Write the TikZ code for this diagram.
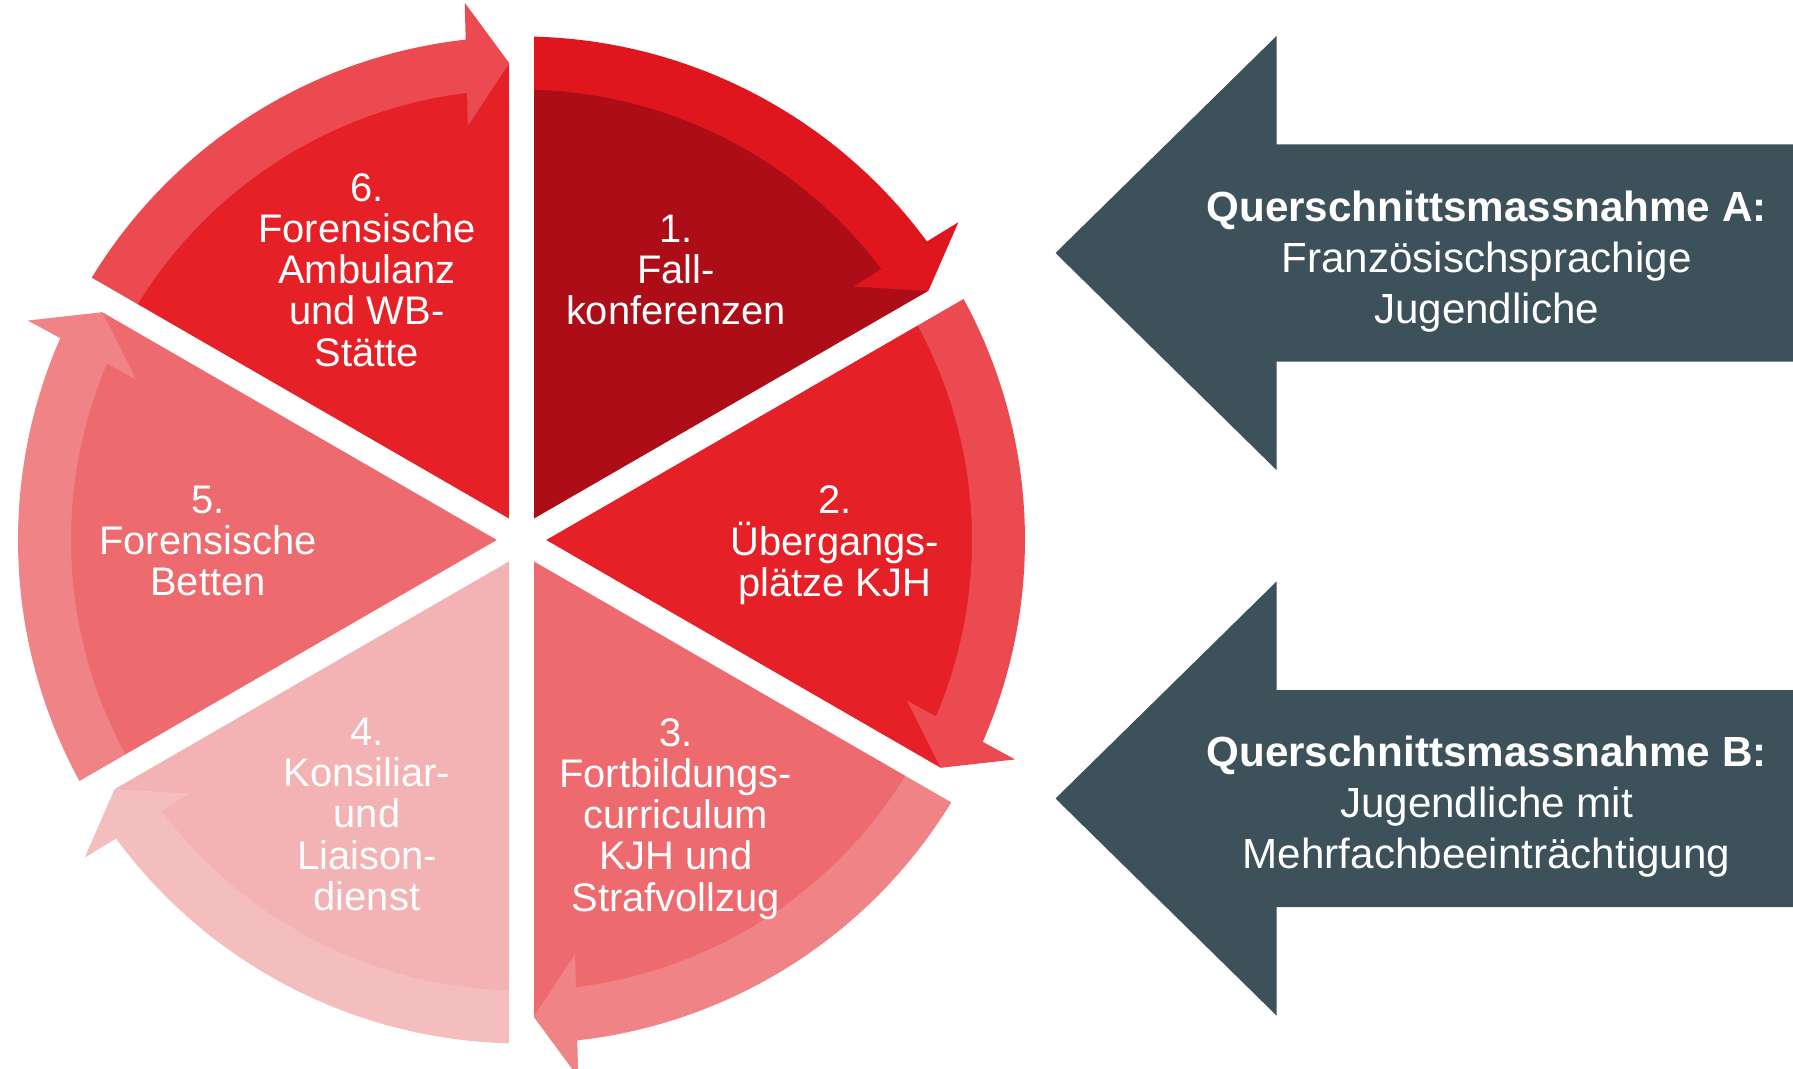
\documentclass[tikz,border=0pt]{standalone}
\usepackage{fontspec}
\setmainfont{Liberation Sans}
\usetikzlibrary{calc}
\definecolor{rotdunkel}{HTML}{AC0D17}
\definecolor{rotband}{HTML}{E0161F}
\definecolor{rot}{HTML}{E52027}
\definecolor{rothell}{HTML}{EB4A50}
\definecolor{rosa}{HTML}{ED6A6E}
\definecolor{rosahell}{HTML}{F08385}
\definecolor{blass}{HTML}{F3B2B3}
\definecolor{blasshell}{HTML}{F4BDBE}
\definecolor{schiefer}{HTML}{3D515B}
\tikzset{
  Fuge/.style={draw=white, line width=0.488cm}, % Spalt zwischen Segmenten
  SegText/.style={text=white, align=center, inner sep=0pt,
    font=\fontsize{22.7}{23.5}\selectfont},% Text in den Segmenten
  QText/.style={text=white, align=center, inner sep=0pt,
    font=\fontsize{24}{28.9}\selectfont},  % Text in den Pfeilen
  QPfeil/.style={fill=schiefer}
}

\begin{document}
\begin{tikzpicture}[x=0.02cm, y=0.02cm]
\useasboundingbox (-521.5,-529) rectangle (1271.5,540);

%Segmente und Kreispfeile
\foreach \i/\fs/\fb in {1/rotdunkel/rotband, 2/rot/rothell, 3/rosa/rosahell,
                        4/blass/blasshell, 5/rosa/rosahell, 6/rot/rothell}{%
  \pgfmathsetmacro{\wA}{150-60*\i} % Anfang
  \pgfmathsetmacro{\wE}{\wA-60}    % Ende
  \pgfmathsetmacro{\wS}{\wE+1.466} % Pfeilspitze
  \pgfmathsetmacro{\wB}{\wS+3.665} % Ende des Bandes
  \fill[\fs] (0,0) -- (\wE:477) arc[start angle=\wE, end angle=\wA, radius=477] -- cycle;
  \fill[\fb] (\wA:450.5) -- (\wA:503.5) arc[start angle=\wA, end angle=\wB, radius=503.5]
    -- (\wB:450.5) arc[start angle=\wB, end angle=\wA, radius=450.5] -- cycle;
  \fill[\fb] (\wS:477) -- ($(\wS:477)+(\wS+90:43)+(\wS:61.5)$)
    -- ($(\wS:477)+(\wS+90:43)-(\wS:61.5)$) -- cycle;
}

%Trennfugen
\foreach \w in {30,90,...,330}
  \draw[Fuge] (0,0) -- (\w:560);

%Beschriftung der Segmente
\node[SegText] (S1) at (154.3,270.1)  {1.\\Fall-\\konferenzen};
\node[SegText] (S2) at (313.3,-5.5)   {2.\\Übergangs-\\plätze KJH};
\node[SegText] (S3) at (154.3,-278.8) {3.\\Fortbildungs-\\curriculum\\KJH und\\Strafvollzug};
\node[SegText] (S4) at (-154.5,-274.2){4.\\Konsiliar-\\und\\Liaison-\\dienst};
\node[SegText] (S5) at (-313.5,-0.9)  {5.\\Forensische\\Betten};
\node[SegText] (S6) at (-154.5,270.1) {6.\\Forensische\\Ambulanz\\und WB-\\Stätte};

%Querschnittsmassnahmen
\foreach \y in {287,-258.5}
  \fill[QPfeil] (534,\y) -- ++(221,217) -- ++(0,-108.5) -- ++(516.5,0)
    -- ++(0,-217) -- ++(-516.5,0) -- ++(0,-108.5) -- cycle;
\node[QText] (QA) at (965.1,278.2)
  {\textbf{Querschnittsmassnahme A:}\\Französischsprachige\\Jugendliche};
\node[QText] (QB) at (965.1,-266.8)
  {\textbf{Querschnittsmassnahme B:}\\Jugendliche mit\\Mehrfachbeeinträchtigung};

\end{tikzpicture}
\end{document}
